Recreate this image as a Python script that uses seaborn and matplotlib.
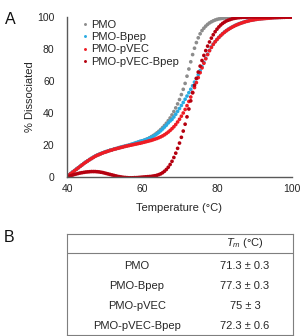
import numpy as np
import pandas as pd
import matplotlib
matplotlib.use("Agg")
import matplotlib.pyplot as plt
import seaborn as sns

# ---------------- data ----------------
temperature = np.arange(40, 100.01, 0.5)

low_pmo = [0.5, 1.3, 2.2, 3.1, 4.0, 4.9, 5.8, 6.7, 7.6, 8.5, 9.3, 10.1, 10.9, 11.6, 12.3, 13.0,
           13.6, 14.1, 14.6, 15.1, 15.5, 15.9, 16.3, 16.7, 17.0, 17.4, 17.7, 18.0, 18.4, 18.7,
           19.0, 19.3, 19.6, 19.9, 20.2, 20.6, 20.9, 21.3, 21.7, 22.1, 22.5]

pmo = low_pmo + [22.9, 23.4, 23.9, 24.5, 25.2, 25.9, 26.7, 27.6, 28.6, 29.7, 30.9, 32.2, 33.6, 35.2,
                 36.9, 38.8, 40.9, 43.2, 45.7, 48.4, 51.5, 54.8, 58.5, 63.0, 67.5, 72.0, 76.5, 80.5,
                 84.0, 87.0, 89.5, 91.5, 93.0, 94.3, 95.4, 96.3, 97.0, 97.6, 98.1, 98.5, 98.8, 99.0,
                 99.2, 99.4, 99.5, 99.6, 99.7, 99.8, 99.8, 99.9, 99.9, 99.9, 99.9,
                 100, 100, 100, 100, 100, 100, 100, 100, 100, 100, 100, 100, 100, 100,
                 100, 100, 100, 100, 100, 100, 100, 100, 100, 100, 100, 100, 100]

pmo_bpep = [0.5, 1.3, 2.2, 3.1, 4.0, 4.9, 5.8, 6.7, 7.6, 8.5, 9.3, 10.1, 10.9, 11.6, 12.3, 13.0,
            13.6, 14.1, 14.6, 15.1, 15.5, 15.9, 16.3, 16.7, 17.0, 17.4, 17.7, 18.0, 18.4, 18.7,
            19.0, 19.3, 19.6, 19.9, 20.3, 20.7, 21.1, 21.5, 21.9, 22.3, 22.6,
            22.9, 23.3, 23.8, 24.3, 24.9, 25.5, 26.2, 27.0, 27.9, 28.9, 30.0, 31.2, 32.4, 33.8,
            35.0, 36.0, 37.5, 39.2, 41.0, 42.8, 44.7, 46.6, 48.6, 50.6, 52.7, 54.8, 57.0, 59.3,
            61.6, 64.0, 66.5, 69.0, 71.6, 74.2, 76.8, 79.2, 81.3, 83.0, 84.6, 86.0, 87.3, 88.5,
            89.6, 90.6, 91.5, 92.3, 93.0, 93.7, 94.3, 94.9, 95.4, 95.9, 96.3, 96.7, 97.1, 97.4,
            97.7, 98.0, 98.2, 98.4, 98.6, 98.8, 98.9, 99.0, 99.1, 99.2, 99.3, 99.4, 99.5, 99.6,
            99.6, 99.7, 99.7, 99.8, 99.8, 99.9, 99.9, 99.9, 100, 100]

pmo_pvec = [0.4, 1.2, 2.1, 3.0, 3.9, 4.8, 5.7, 6.6, 7.5, 8.4, 9.2, 10.0, 10.8, 11.5, 12.2, 12.9,
            13.5, 14.0, 14.5, 15.0, 15.4, 15.8, 16.2, 16.6, 16.9, 17.3, 17.6, 17.9, 18.2, 18.5,
            18.8, 19.1, 19.4, 19.6, 19.9, 20.1, 20.4, 20.6, 20.9, 21.1, 21.4,
            21.7, 22.0, 22.3, 22.6, 22.9, 23.3, 23.7, 24.1, 24.6, 25.1, 25.7, 26.4, 27.2, 28.1,
            29.1, 30.2, 31.4, 32.8, 34.4, 36.1, 38.0, 40.0, 42.2, 44.6, 47.2, 50.0, 52.9, 55.9,
            59.0, 62.1, 65.2, 68.2, 71.1, 73.9, 76.5, 78.9, 81.0, 82.9, 84.5, 85.9, 87.2, 88.4,
            89.5, 90.5, 91.4, 92.2, 92.9, 93.6, 94.2, 94.8, 95.3, 95.8, 96.2, 96.6, 97.0, 97.3,
            97.6, 97.9, 98.1, 98.3, 98.5, 98.7, 98.8, 98.9, 99.0, 99.1, 99.2, 99.3, 99.4, 99.5,
            99.6, 99.6, 99.7, 99.7, 99.8, 99.8, 99.9, 99.9, 100, 100]

pmo_pvec_bpep = [0.0, 0.4, 0.8, 1.2, 1.6, 1.9, 2.2, 2.5, 2.7, 2.9, 3.1, 3.2, 3.3, 3.4, 3.4, 3.4,
                 3.3, 3.2, 3.0, 2.8, 2.5, 2.2, 1.9, 1.6, 1.3, 1.0, 0.7, 0.4, 0.2, 0.0,
                 -0.2, -0.3, -0.4, -0.5, -0.5, -0.5, -0.4, -0.4, -0.3, -0.2, -0.1,
                 0.0, 0.1, 0.2, 0.3, 0.4, 0.6, 0.8, 1.1, 1.5, 2.0, 2.7, 3.6, 4.7, 6.1,
                 7.8, 9.8, 12.2, 14.9, 17.9, 21.2, 24.8, 28.7, 33.0, 37.6, 42.5, 47.6, 52.6, 57.3,
                 61.6, 65.6, 69.3, 72.8, 76.0, 79.0, 81.8, 84.4, 86.8, 88.9, 90.8, 92.4, 93.8, 95.0,
                 96.0, 96.8, 97.5, 98.0, 98.4, 98.8, 99.1, 99.3, 99.5, 99.6, 99.7, 99.8, 99.8, 99.9,
                 100, 100, 100, 100, 100, 100, 100, 100, 100, 100, 100, 100, 100, 100,
                 100, 100, 100, 100, 100, 100, 100, 100, 100, 100]

series_names = ["PMO", "PMO-Bpep", "PMO-pVEC", "PMO-pVEC-Bpep"]
series_colors = ["#8c8c8c", "#29abe2", "#ee1c24", "#b5000f"]

table_samples = ["PMO", "PMO-Bpep", "PMO-pVEC", "PMO-pVEC-Bpep"]
table_tm = ["71.3 ± 0.3", "77.3 ± 0.3", "75 ± 3", "72.3 ± 0.6"]

frames = []
for name, vals in zip(series_names, [pmo, pmo_bpep, pmo_pvec, pmo_pvec_bpep]):
    frames.append(pd.DataFrame({"Temperature": temperature, "Dissociated": vals, "Sample": name}))
df = pd.concat(frames, ignore_index=True)

# ---------------- style ----------------
sns.set_theme(style="white")
plt.rcParams["font.family"] = ["Liberation Sans", "DejaVu Sans"]
plt.rcParams["mathtext.fontset"] = "custom"
plt.rcParams["mathtext.it"] = "Liberation Sans:italic"
plt.rcParams["mathtext.rm"] = "Liberation Sans"
txt = "#262626"
FS = 8

W, H = 300, 336
fig = plt.figure(figsize=(W / 100, H / 100), dpi=100)


def fx(x):
    return x / W


def fy(y):
    return 1 - y / H


ax = fig.add_axes([fx(67), fy(177), 225 / W, 160 / H])
sns.scatterplot(data=df, x="Temperature", y="Dissociated", hue="Sample",
                palette=dict(zip(series_names, series_colors)), hue_order=series_names,
                s=7, linewidth=0, ax=ax, legend=True)

ax.set_xlim(40, 100)
ax.set_ylim(0, 100)
ax.set_xticks([40, 60, 80, 100])
ax.set_yticks([0, 20, 40, 60, 80, 100])
ax.set_xlabel("")
ax.set_ylabel("")
ax.tick_params(axis="both", length=0, labelsize=7.5, colors=txt)
ax.tick_params(axis="x", pad=5)
ax.tick_params(axis="y", pad=9)
for s in ["top", "right"]:
    ax.spines[s].set_visible(False)
for s in ["left", "bottom"]:
    ax.spines[s].set_color("#595959")
    ax.spines[s].set_linewidth(1.0)

handles, labels = ax.get_legend_handles_labels()
leg = ax.legend(handles, labels, loc="upper left", bbox_to_anchor=(0.035, 1.012),
                frameon=False, fontsize=FS, handletextpad=0.1, labelspacing=0.22,
                markerscale=0.8, borderaxespad=0, handlelength=1.0)
for t in leg.get_texts():
    t.set_color(txt)

fig.text(fx(30), fy(97), "% Dissociated", rotation=90, ha="center", va="center",
         fontsize=FS, color=txt)
fig.text(fx(179), fy(208), "Temperature (°C)", ha="center", va="center",
         fontsize=FS, color=txt)
fig.text(fx(10), fy(20), "A", ha="center", va="center", fontsize=11.5, color="#111111")
fig.text(fx(9), fy(237), "B", ha="center", va="center", fontsize=11.5, color="#111111")

# ---------------- table ----------------
tab = fig.add_axes([fx(67), fy(335), 226 / W, 101 / H])
tab.set_xlim(0, 1)
tab.set_ylim(0, 1)
tab.set_xticks([])
tab.set_yticks([])
tab.set_facecolor("none")
for s in tab.spines.values():
    s.set_visible(True)
    s.set_color("#7f7f7f")
    s.set_linewidth(0.8)
tab.axhline((335 - 253) / 101, color="#7f7f7f", linewidth=0.8)

fig.text(fx(245), fy(243), r"$T_m$ (°C)", ha="center", va="center", fontsize=FS, color=txt)
row_y = [266, 286, 306, 326]
for yy, name, tm in zip(row_y, table_samples, table_tm):
    fig.text(fx(137), fy(yy), name, ha="center", va="center", fontsize=FS, color=txt)
    fig.text(fx(245), fy(yy), tm, ha="center", va="center", fontsize=FS, color=txt)

fig.savefig("out.png", dpi=100)
